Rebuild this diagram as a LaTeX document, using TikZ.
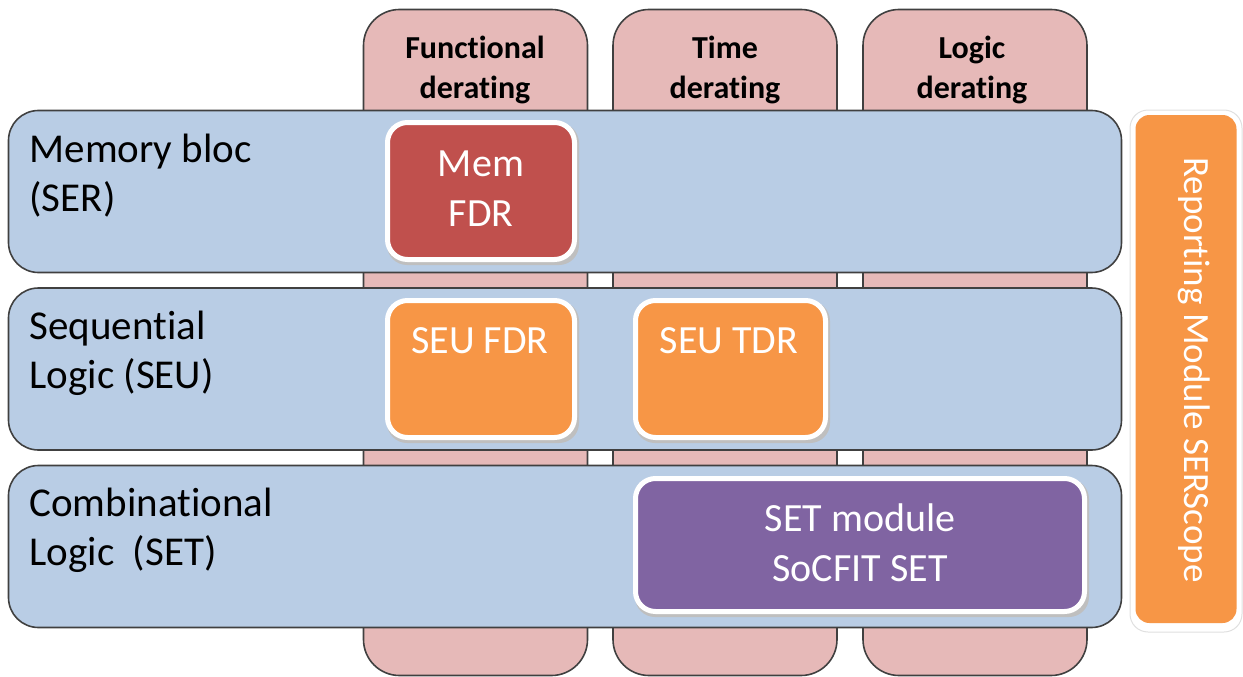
\documentclass[tikz,border=0pt]{standalone}
\usepackage{fontspec}
\setmainfont{Carlito}[RawFeature={-liga;-clig;-calt;-dlig}]
\definecolor{colpink}{HTML}{E6B9B8}
\definecolor{rowblue}{HTML}{B9CDE5}
\definecolor{memred}{HTML}{C0504D}
\definecolor{seuorange}{HTML}{F79646}
\definecolor{setpurple}{HTML}{8064A2}
\definecolor{edgegray}{HTML}{404040}
\begin{document}
\begin{tikzpicture}[x=1pt,y=-1pt,
  colbox/.style={draw=edgegray, line width=1.6pt, fill=colpink, rounded corners=36pt, minimum width=224pt, minimum height=666pt, inner sep=0pt},
  rowbox/.style={draw=edgegray, line width=1.6pt, fill=rowblue, rounded corners=30pt, minimum width=1113pt, minimum height=162pt, inner sep=0pt},
  inbox/.style={draw=white, line width=5pt, rounded corners=20pt, inner sep=0pt},
  shadowbox/.style={fill=black!25, rounded corners=20pt, inner sep=0pt},
  headtxt/.style={font=\fontsize{32}{40}\selectfont\bfseries, align=center, text=black},
  rowtxt/.style={font=\fontsize{41}{49}\selectfont, align=left, anchor=north west, text=black},
  intxt/.style={font=\fontsize{40}{50}\selectfont, align=center, text=white},
]
\useasboundingbox (0,0) rectangle (1243,677);
% columns
\node[colbox] (c1) at (475.5,342.5) {};
\node[colbox] (c2) at (725,342.5) {};
\node[colbox] (c3) at (975,342.5) {};
\node[headtxt] (h1) at (475,70) {Functional\\derating};
\node[headtxt] (h2) at (725,70) {Time\\derating};
\node[headtxt] (h3) at (972,70) {Logic\\derating};
% rows
\node[rowbox] (r1) at (565,191.5) {};
\node[rowbox] (r2) at (565,369) {};
\node[rowbox] (r3) at (565,546.5) {};
\node[rowtxt] (t1) at (26,130) {Memory bloc\\(SER)};
\node[rowtxt] (t2) at (26,307) {Sequential\\Logic (SEU)};
\node[rowtxt] (t3) at (26,484) {Combinational\\Logic\ \ (SET)};
% inner boxes
\node[shadowbox, minimum width=192pt, minimum height=142pt] at (483,194) {};
\node[inbox, fill=memred, minimum width=187pt, minimum height=137pt] (mem) at (481,191) {};
\node[intxt] at (481,189) {Mem\\FDR};
\node[shadowbox, minimum width=192pt, minimum height=142pt] at (483,372) {};
\node[inbox, fill=seuorange, minimum width=187pt, minimum height=137pt] (seufdr) at (481,369) {};
\node[intxt] at (480,341) {SEU FDR};
\node[shadowbox, minimum width=195pt, minimum height=142pt] at (732.5,372) {};
\node[inbox, fill=seuorange, minimum width=190pt, minimum height=137pt] (seutdr) at (730.5,369) {};
\node[intxt] at (729,341) {SEU TDR};
\node[shadowbox, minimum width=454pt, minimum height=138pt] at (862,548) {};
\node[inbox, fill=setpurple, minimum width=449pt, minimum height=133pt] (set) at (860,545) {};
\node[intxt] at (860,543) {SET module\\SoCFIT SET};
% reporting module
\node[draw=black!12, line width=1pt, fill=white, rounded corners=18pt, minimum width=112pt, minimum height=522pt, inner sep=0pt] (repo) at (1186,371) {};
\node[fill=seuorange, rounded corners=14pt, minimum width=101pt, minimum height=508pt, inner sep=0pt] (rep) at (1186,369) {};
\node[font=\fontsize{37}{44}\selectfont, text=white, rotate=-90] (reptxt) at (1194,370) {Reporting Module SERScope};
\end{tikzpicture}
\end{document}
